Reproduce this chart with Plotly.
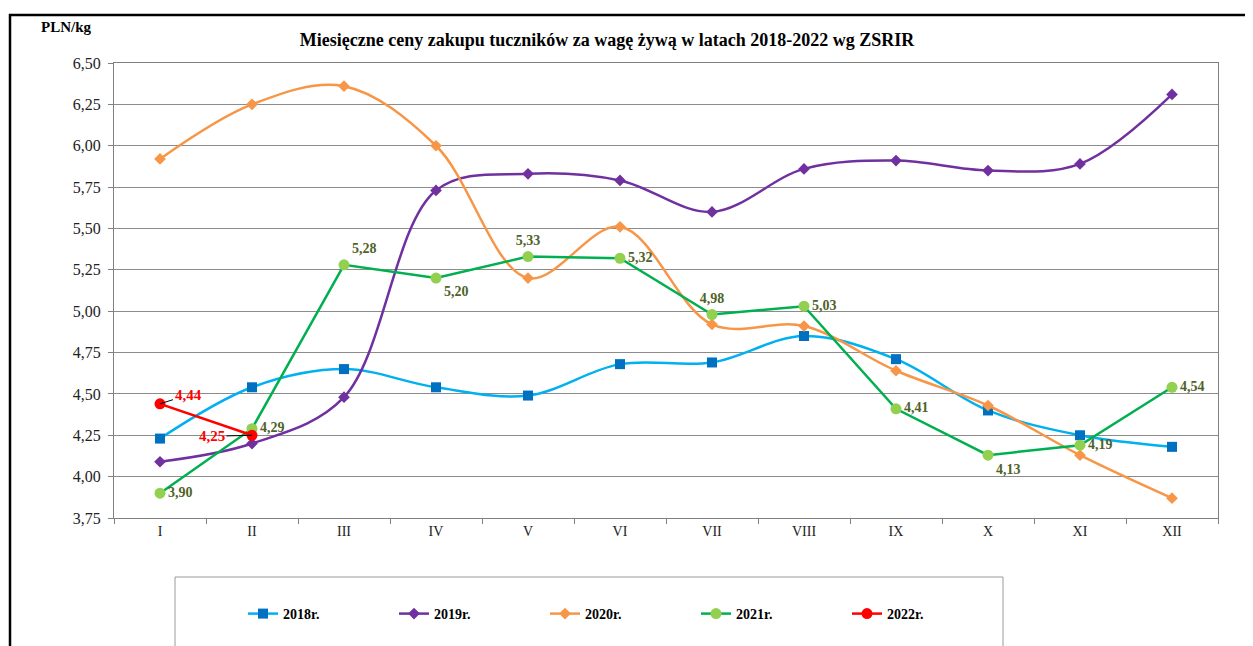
import plotly.graph_objects as go

months = ["I", "II", "III", "IV", "V", "VI", "VII", "VIII", "IX", "X", "XI", "XII"]
v2018 = [4.23, 4.54, 4.65, 4.54, 4.49, 4.68, 4.69, 4.85, 4.71, 4.40, 4.25, 4.18]
v2019 = [4.09, 4.20, 4.48, 5.73, 5.83, 5.79, 5.60, 5.86, 5.91, 5.85, 5.89, 6.31]
v2020 = [5.92, 6.25, 6.36, 6.00, 5.20, 5.51, 4.92, 4.91, 4.64, 4.43, 4.13, 3.87]
v2021 = [3.90, 4.29, 5.28, 5.20, 5.33, 5.32, 4.98, 5.03, 4.41, 4.13, 4.19, 4.54]
months2022 = ["I", "II"]
v2022 = [4.44, 4.25]
y_ticks = [3.75, 4.00, 4.25, 4.50, 4.75, 5.00, 5.25, 5.50, 5.75, 6.00, 6.25, 6.50]

OFF = 8  # page body margin
W, H = 1253 - OFF, 646 - OFF
# plot area in screen pixels
L, R, T, B = 114, 1218, 63, 518


def px(x):
    return (x - L) / (R - L)


def py(y):
    return (B - y) / (B - T)


SERIF = "Liberation Serif"
fig = go.Figure()

fig.add_trace(go.Scatter(
    x=months, y=v2018, name="2018r.", mode="lines+markers",
    line=dict(color="#00B0F0", width=2.5, shape="spline", smoothing=1),
    marker=dict(symbol="square", size=10, color="#0070C0"),
))
fig.add_trace(go.Scatter(
    x=months, y=v2019, name="2019r.", mode="lines+markers",
    line=dict(color="#7030A0", width=2.5, shape="spline", smoothing=1),
    marker=dict(symbol="diamond", size=9, color="#7030A0"),
))
fig.add_trace(go.Scatter(
    x=months, y=v2020, name="2020r.", mode="lines+markers",
    line=dict(color="#F79646", width=2.5, shape="spline", smoothing=1),
    marker=dict(symbol="diamond", size=9, color="#F79646"),
))
pos2021 = ["middle right", "middle right", "top right", "bottom right", "top center",
           "middle right", "top center", "middle right", "middle right", "bottom right",
           "middle right", "middle right"]
fig.add_trace(go.Scatter(
    x=months, y=v2021, name="2021r.", mode="lines+markers+text",
    line=dict(color="#00B050", width=2.5),
    marker=dict(symbol="circle", size=11, color="#92D050"),
    text=[f"{v:.2f}".replace(".", ",") for v in v2021],
    textposition=pos2021,
    textfont=dict(family=SERIF, size=14, color="#4F6228", weight="bold"),
))
fig.add_trace(go.Scatter(
    x=months2022, y=v2022, name="2022r.", mode="lines+markers",
    line=dict(color="#FF0000", width=2.5),
    marker=dict(symbol="circle", size=11, color="#FF0000"),
))

annotations = [
    dict(x=months2022[0], y=v2022[0], text=f"{v2022[0]:.2f}".replace(".", ","),
         showarrow=True, arrowhead=0, arrowwidth=1, arrowcolor="black",
         ax=28, ay=-9, font=dict(family=SERIF, size=15, color="#FF0000", weight="bold")),
    dict(x=months2022[1], y=v2022[1], text=f"{v2022[1]:.2f}".replace(".", ","),
         showarrow=True, arrowhead=0, arrowwidth=1, arrowcolor="black",
         ax=-40, ay=1, font=dict(family=SERIF, size=15, color="#FF0000", weight="bold")),
    dict(x=px(66), y=py(27), xref="paper", yref="paper", xanchor="center", yanchor="middle",
         text="PLN/kg", showarrow=False,
         font=dict(family=SERIF, size=15, color="black", weight="bold")),
]

shapes = [
    dict(type="rect", xref="paper", yref="paper", x0=px(10), x1=px(1264), y0=py(665), y1=py(15),
         line=dict(color="black", width=2.5), fillcolor="rgba(0,0,0,0)", layer="below"),
    dict(type="rect", xref="paper", yref="paper", x0=px(175), x1=px(1003), y0=py(665), y1=py(577),
         line=dict(color="#9a9a9a", width=1), fillcolor="rgba(0,0,0,0)", layer="below"),
]

fig.update_layout(
    width=W, height=H,
    margin=dict(l=L - OFF, r=W - (R - OFF), t=T - OFF, b=H - (B - OFF)),
    paper_bgcolor="white", plot_bgcolor="white",
    separators=", ",
    title=dict(text="Miesięczne ceny zakupu tuczników za wagę żywą w latach 2018-2022 wg ZSRIR",
               x=px(607), xref="paper", xanchor="center", y=1 - (40 - OFF) / H, yref="container",
               yanchor="middle", font=dict(family=SERIF, size=18, color="black", weight="bold")),
    xaxis=dict(type="category", range=[-0.5, 11.5], autorange=False, showgrid=False,
               showline=True, linecolor="#808080", linewidth=1,
               mirror=True, ticks="outside", tickson="boundaries", ticklen=5, tickcolor="#808080",
               tickfont=dict(family=SERIF, size=14, color="#222")),
    yaxis=dict(range=[3.75, 6.5], autorange=False, tickvals=y_ticks, tickformat=".2f", showgrid=True,
               gridcolor="#8c8c8c", gridwidth=1, showline=True, linecolor="#808080", linewidth=1,
               mirror=True, ticks="outside", ticklen=5, tickcolor="#808080", zeroline=False,
               ticklabelstandoff=4,
               tickfont=dict(family=SERIF, size=16, color="#222")),
    legend=dict(orientation="h", x=px(243), xanchor="left", y=py(614), yanchor="middle",
                entrywidth=106, entrywidthmode="pixels", bgcolor="rgba(0,0,0,0)",
                font=dict(family=SERIF, size=14, color="black", weight="bold"), traceorder="normal"),
    annotations=annotations,
    shapes=shapes,
    showlegend=True,
)

fig.write_html("out.html")
